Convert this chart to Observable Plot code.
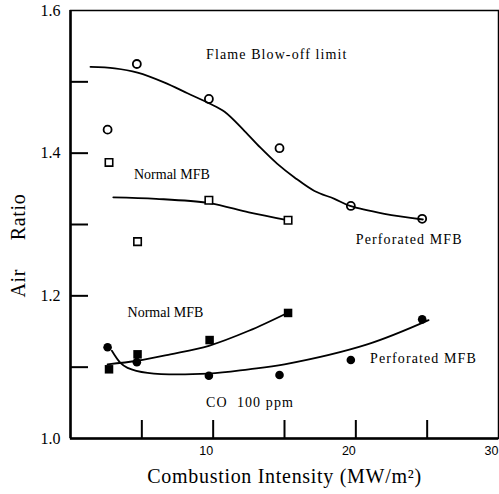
<!DOCTYPE html>
<html>
<head>
<meta charset="utf-8">
<script src="https://cdn.jsdelivr.net/npm/d3@7"></script>
<script src="https://cdn.jsdelivr.net/npm/@observablehq/plot@0.6"></script>
<style>
  html, body { margin: 0; padding: 0; background: #fff; }
  #chart svg { display: block; }
</style>
</head>
<body>
<div id="chart"></div>
<script>
// Flame blow-off limit, perforated MFB (open circles)
const blowoffX = [2.6, 4.65, 9.7, 14.65, 19.65, 24.65];
const blowoffY = [1.433, 1.525, 1.476, 1.407, 1.326, 1.308];
// Flame blow-off limit, normal MFB (open squares)
const normalOpenX = [2.7, 4.7, 9.7, 15.25];
const normalOpenY = [1.387, 1.276, 1.334, 1.306];
// CO 100 ppm, normal MFB (filled squares)
const normalCoX = [2.7, 4.7, 9.75, 15.25];
const normalCoY = [1.097, 1.118, 1.138, 1.176];
// CO 100 ppm, perforated MFB (filled circles)
const perfCoX = [2.6, 4.65, 9.7, 14.65, 19.65, 24.65];
const perfCoY = [1.128, 1.107, 1.088, 1.089, 1.110, 1.167];

// Fitted trend curves
const blowoffFitX = [1.4, 3.1, 4.7, 6.6, 8.2, 9.7, 10.8, 12.2, 13.3, 14.5, 15.7, 17.1, 18.5, 19.6, 22.0, 24.7];
const blowoffFitY = [1.521, 1.519, 1.513, 1.499, 1.484, 1.470, 1.458, 1.431, 1.408, 1.385, 1.366, 1.347, 1.336, 1.326, 1.315, 1.307];
const normalOpenFitX = [3.0, 6.0, 9.7, 12.5, 15.2];
const normalOpenFitY = [1.338, 1.336, 1.330, 1.317, 1.306];
const normalCoFitX = [2.6, 4.7, 7.0, 9.7, 12.5, 15.2];
const normalCoFitY = [1.104, 1.109, 1.118, 1.130, 1.151, 1.176];
const perfCoFitX = [2.9, 3.5, 4.0, 5.4, 9.7, 12.5, 15.0, 20.8, 25.1];
const perfCoFitY = [1.123, 1.106, 1.099, 1.092, 1.091, 1.097, 1.104, 1.132, 1.166];

// Curve annotations (left edge, vertical centre)
const noteText = ["Flame Blow-off limit", "Normal MFB", "Perforated MFB", "Normal MFB", "Perforated MFB", "CO  100 ppm"];
const noteX = [9.5, 4.45, 20.0, 4.0, 21.0, 9.5];
const noteY = [1.538, 1.370, 1.279, 1.177, 1.112, 1.050];

// Axes
const xDomain = [0, 30];
const yDomain = [1.0, 1.6];
const xTickLabels = [10, 20, 30];
const xTickMarks = [5, 10, 15, 20, 25];
const yTickLabels = [1.0, 1.2, 1.4, 1.6];
const yTickMarks = [1.1, 1.2, 1.3, 1.4, 1.5];
const xTitle = "Combustion Intensity (MW/m²)";
const yTitle = "Air\u00a0\u00a0\u00a0\u00a0\u00a0Ratio";

const rows = (xs, ys) => xs.map((x, i) => ({x, y: ys[i]}));
const notes = noteText.map((t, i) => ({t, x: noteX[i], y: noteY[i]}));

const serif = "'Liberation Serif', 'Times New Roman', serif";
const sans = "'Liberation Sans', Arial, sans-serif";

// layout
const W = 499, H = 494;
const margin = {left: 70, right: 1, top: 10, bottom: 56};
const innerW = W - margin.left - margin.right;
const innerH = H - margin.top - margin.bottom;
const tickLen = 18; // px, inward tick length
// tick length expressed in each axis' units
const tickLenX = tickLen * (xDomain[1] - xDomain[0]) / innerW;
const tickLenY = tickLen * (yDomain[1] - yDomain[0]) / innerH;

// wraps a mark's render so its text gets extra letter spacing
const spaced = (ls) => (index, scales, values, dims, context, next) => {
  const g = next(index, scales, values, dims, context);
  if (g) g.style.letterSpacing = ls;
  return g;
};

const lineOpts = {x: "x", y: "y", curve: "catmull-rom", stroke: "#000", strokeWidth: 1.8};

const chart = Plot.plot({
  width: W,
  height: H,
  marginLeft: margin.left,
  marginRight: margin.right,
  marginTop: margin.top,
  marginBottom: margin.bottom,
  style: {background: "#fff", color: "#000"},
  x: {domain: xDomain},
  y: {domain: yDomain},
  marks: [
    Plot.frame({stroke: "#000", strokeWidth: 1.5}),
    Plot.ruleX([xDomain[0]], {stroke: "#000", strokeWidth: 2.5}),
    Plot.ruleY([yDomain[0]], {stroke: "#000", strokeWidth: 2.5}),
    // inward tick marks, rising from the bottom edge and reaching in from the left edge
    Plot.ruleX(xTickMarks, {x: (d) => d, y1: yDomain[0], y2: yDomain[0] + tickLenY, stroke: "#000", strokeWidth: 2}),
    Plot.ruleY(yTickMarks, {y: (d) => d, x1: xDomain[0], x2: xDomain[0] + tickLenX, stroke: "#000", strokeWidth: 2}),
    // tick labels
    Plot.axisX({ticks: xTickLabels, tickSize: 0, tickPadding: 8, dx: -7, fontSize: 12.5, fontFamily: sans, label: null}),
    Plot.axisY({ticks: yTickLabels, tickSize: 0, tickPadding: 10, tickFormat: d3.format(".1f"), fontSize: 16, fontFamily: serif, label: null}),
    // axis titles
    Plot.text([xTitle], {text: (d) => d, frameAnchor: "bottom", dy: 44, fontSize: 20, fontFamily: serif, fill: "#000", render: spaced("0.7px")}),
    Plot.text([yTitle], {text: (d) => d, frameAnchor: "left", textAnchor: "middle", rotate: -90, dx: -52, dy: 21, fontSize: 20, fontFamily: serif, fill: "#000", render: spaced("0.7px")}),
    // fitted curves
    Plot.line(rows(blowoffFitX, blowoffFitY), lineOpts),
    Plot.line(rows(normalOpenFitX, normalOpenFitY), lineOpts),
    Plot.line(rows(normalCoFitX, normalCoFitY), lineOpts),
    Plot.line(rows(perfCoFitX, perfCoFitY), lineOpts),
    // measured points
    Plot.dot(rows(blowoffX, blowoffY), {x: "x", y: "y", r: 4, symbol: "circle", stroke: "#000", strokeWidth: 1.8, fill: "none"}),
    Plot.dot(rows(normalOpenX, normalOpenY), {x: "x", y: "y", r: 4.2, symbol: "square", stroke: "#000", strokeWidth: 1.6, fill: "#fff"}),
    Plot.dot(rows(normalCoX, normalCoY), {x: "x", y: "y", r: 4.8, symbol: "square", fill: "#000", stroke: "none"}),
    Plot.dot(rows(perfCoX, perfCoY), {x: "x", y: "y", r: 4.3, symbol: "circle", fill: "#000", stroke: "none"}),
    // annotations
    Plot.text(notes.filter((d) => d.t !== "Normal MFB"), {x: "x", y: "y", text: "t", textAnchor: "start", fontSize: 14, fontFamily: serif, fill: "#000", render: spaced("1.1px")}),
    Plot.text(notes.filter((d) => d.t === "Normal MFB"), {x: "x", y: "y", text: "t", textAnchor: "start", fontSize: 14, fontFamily: serif, fill: "#000"})
  ]
});

document.getElementById("chart").appendChild(chart);
</script>
</body>
</html>
